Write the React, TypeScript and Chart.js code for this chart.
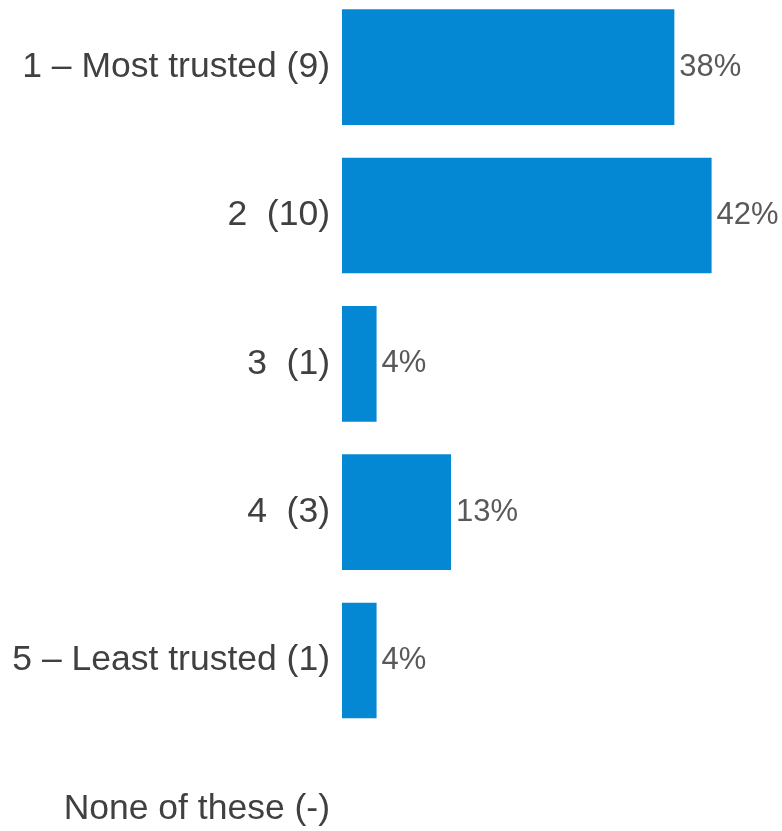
import React, { useEffect, useRef } from "react";
import { Chart, registerables } from "chart.js";

Chart.register(...registerables);

const categories = [
  "1 – Most trusted (9)",
  "2  (10)",
  "3  (1)",
  "4  (3)",
  "5 – Least trusted (1)",
  "None of these (-)",
];
const percentValues = [37.5, 41.67, 4.17, 12.5, 4.17, null];
const valueLabels = ["38%", "42%", "4%", "13%", "4%", ""];

const barColor = "#0588D3";
const fontFamily = "'Liberation Sans', Arial, sans-serif";

const valueLabelPlugin = {
  id: "valueLabels",
  afterDatasetsDraw(chart: any) {
    const ctx = chart.ctx;
    const meta = chart.getDatasetMeta(0);
    ctx.save();
    ctx.font = `31px ${fontFamily}`;
    ctx.fillStyle = "#595959";
    ctx.textAlign = "left";
    ctx.textBaseline = "middle";
    meta.data.forEach((el: any, i: number) => {
      const label = valueLabels[i];
      if (!label) return;
      ctx.fillText(label, el.x + 5, el.y);
    });
    ctx.restore();
  },
};

export default function App() {
  const ref = useRef<HTMLCanvasElement>(null);
  useEffect(() => {
    if (!ref.current) return;
    const chart = new Chart(ref.current, {
      type: "bar",
      data: {
        labels: categories,
        datasets: [
          {
            data: percentValues as any,
            backgroundColor: barColor,
            borderWidth: 0,
            categoryPercentage: 0.78,
            barPercentage: 1,
          },
        ],
      },
      options: {
        indexAxis: "y",
        animation: false,
        responsive: false,
        layout: { padding: 0 },
        plugins: {
          legend: { display: false },
          tooltip: { enabled: false },
        },
        scales: {
          x: {
            display: false,
            min: 0.3,
            max: 49.55,
          },
          y: {
            grid: { display: false, drawTicks: false },
            border: { display: false },
            ticks: {
              color: "#404040",
              padding: 12,
              font: { family: fontFamily, size: 35.5 },
            },
            afterFit(scale: any) {
              scale.width = 342;
              scale.paddingTop = 0;
              scale.paddingBottom = 0;
            },
          },
        },
      },
      plugins: [valueLabelPlugin],
    });
    return () => chart.destroy();
  }, []);
  return (
    <div style={{ position: "absolute", left: 0, top: -7, width: 782, height: 890 }}>
      <canvas ref={ref} width={782} height={890} style={{ display: "block" }} />
    </div>
  );
}
